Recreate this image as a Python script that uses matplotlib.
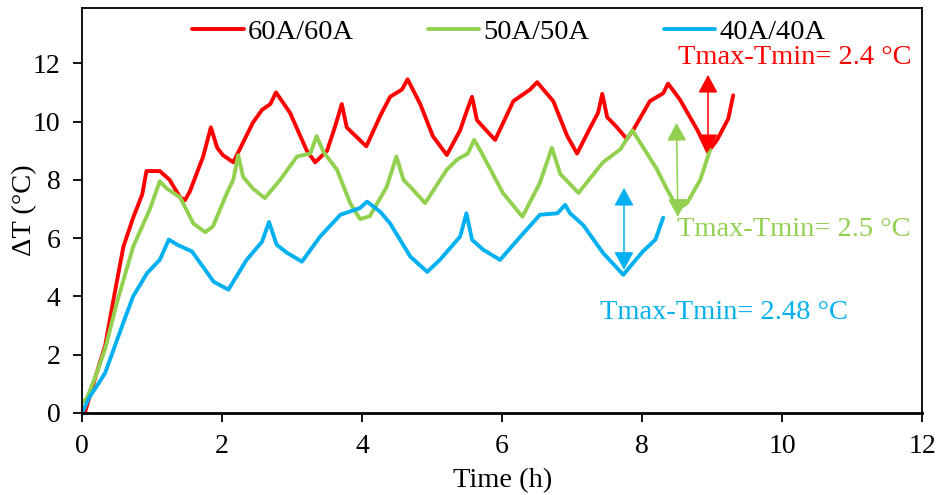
"""Delta T versus time for three charge/discharge currents."""

import matplotlib
matplotlib.use("Agg")
import matplotlib.pyplot as plt

plt.rcParams["font.family"] = ["Liberation Serif", "DejaVu Serif"]

# values
t60 = [0.04, 0.2, 0.33, 0.45, 0.59, 0.73, 0.86, 0.92, 1.11, 1.25, 1.4, 1.47, 1.54, 1.73, 1.84,
       1.93, 2.01, 2.16, 2.44, 2.57, 2.69, 2.77, 2.97, 3.21, 3.33, 3.5, 3.61, 3.71, 3.78, 3.93,
       4.06, 4.26, 4.4, 4.57, 4.65, 4.83, 5.01, 5.21, 5.4, 5.5, 5.57, 5.64, 5.79, 5.9, 6.16,
       6.4, 6.5, 6.73, 6.93, 7.07, 7.26, 7.37, 7.43, 7.5, 7.64, 7.78, 7.87, 8.11, 8.3, 8.37,
       8.54, 8.79, 8.94, 9.07, 9.23, 9.3]
dT60 = [0.0, 1.3, 2.3, 3.9, 5.7, 6.7, 7.5, 8.3, 8.3, 8.0, 7.4, 7.3, 7.6, 8.8, 9.8,
        9.1, 8.85, 8.6, 9.96, 10.4, 10.6, 11.0, 10.3, 9.0, 8.6, 9.0, 9.8, 10.6, 9.8, 9.45,
        9.15, 10.2, 10.85, 11.1, 11.45, 10.6, 9.5, 8.85, 9.7, 10.4, 10.85, 10.05, 9.65, 9.37, 10.7,
        11.1, 11.35, 10.7, 9.5, 8.9, 9.8, 10.3, 10.95, 10.15, 9.8, 9.4, 9.7, 10.7, 10.97, 11.3,
        10.75, 9.7, 8.95, 9.37, 10.1, 10.9]

t50 = [0.0, 0.07, 0.2, 0.33, 0.5, 0.73, 0.97, 1.11, 1.21, 1.4, 1.59, 1.76, 1.87, 2.07, 2.16,
       2.23, 2.3, 2.44, 2.61, 2.83, 3.07, 3.26, 3.35, 3.45, 3.64, 3.83, 3.97, 4.11, 4.35,
       4.49, 4.59, 4.73, 4.9, 5.21, 5.36, 5.51, 5.6, 5.69, 6.01, 6.29, 6.54, 6.71, 6.83,
       7.09, 7.44, 7.69, 7.86, 8.07, 8.2, 8.36, 8.51, 8.64, 8.83, 8.97]
dT50 = [0.35, 0.5, 1.3, 2.2, 3.8, 5.7, 7.0, 7.95, 7.7, 7.4, 6.5, 6.2, 6.4, 7.55, 8.0,
        8.85, 8.1, 7.7, 7.37, 8.0, 8.8, 8.9, 9.5, 8.95, 8.35, 7.2, 6.65, 6.75, 7.75,
        8.8, 8.0, 7.65, 7.2, 8.35, 8.7, 8.9, 9.37, 9.0, 7.55, 6.73, 7.9, 9.1, 8.2,
        7.55, 8.6, 9.05, 9.7, 8.9, 8.4, 7.65, 7.0, 7.2, 8.0, 9.03]

t40 = [0.0, 0.11, 0.22, 0.33, 0.45, 0.59, 0.73, 0.93, 1.11, 1.24, 1.36, 1.57, 1.88, 2.09,
       2.35, 2.57, 2.67, 2.78, 2.93, 3.14, 3.4, 3.69, 3.97, 4.07, 4.26, 4.4, 4.69, 4.93,
       5.11, 5.4, 5.49, 5.57, 5.73, 5.97, 6.26, 6.54, 6.79, 6.9, 6.97, 7.16, 7.44, 7.73,
       8.01, 8.19, 8.3]
dT40 = [0.0, 0.56, 0.95, 1.37, 2.17, 3.1, 4.0, 4.8, 5.25, 5.95, 5.77, 5.54, 4.5, 4.23,
        5.25, 5.87, 6.55, 5.77, 5.49, 5.19, 6.05, 6.8, 7.03, 7.25, 6.9, 6.5, 5.36, 4.84,
        5.25, 6.05, 6.85, 5.94, 5.6, 5.25, 6.05, 6.8, 6.85, 7.14, 6.85, 6.44, 5.49, 4.74,
        5.54, 5.95, 6.7]

labels = ["60A/60A", "50A/50A", "40A/40A"]
colors = ["#FF0000", "#92D050", "#00B0F0"]

fig = plt.figure(figsize=(9.43, 4.95), dpi=100)
ax = fig.add_axes([0.087, 0.166, 0.891, 0.818])

for t, d, lab, c in zip([t60, t50, t40], [dT60, dT50, dT40], labels, colors):
    ax.plot(t, d, color=c, lw=2.8, label=lab, solid_joinstyle="round", solid_capstyle="round")

# double arrows showing the spread
arrow = "<|-|>,head_length=0.55,head_width=0.3"
ax.annotate("", xy=(8.94, 11.6), xytext=(8.94, 8.95),
            arrowprops=dict(arrowstyle=arrow, color=colors[0], lw=1.1, mutation_scale=20,
                            shrinkA=0, shrinkB=0))
ax.annotate("", xy=(8.49, 9.95), xytext=(8.51, 6.73),
            arrowprops=dict(arrowstyle=arrow, color=colors[1], lw=1.1, mutation_scale=20,
                            shrinkA=0, shrinkB=0))
ax.annotate("", xy=(7.74, 7.72), xytext=(7.74, 4.91),
            arrowprops=dict(arrowstyle=arrow, color=colors[2], lw=1.1, mutation_scale=20,
                            shrinkA=0, shrinkB=0))

ax.text(8.51, 12.2, "Tmax-Tmin= 2.4 °C", color=colors[0], fontsize=20.5, va="center")
ax.text(8.5, 6.28, "Tmax-Tmin= 2.5 °C", color=colors[1], fontsize=20.5, va="center")
ax.text(7.4, 3.43, "Tmax-Tmin= 2.48 °C", color=colors[2], fontsize=20.5, va="center")

ax.set_xlim(0, 12)
ax.set_ylim(0, 13.9)
ax.set_xticks(range(0, 13, 2))
ax.set_yticks(range(0, 13, 2))
ax.tick_params(direction="out", length=6.5, width=1.3, labelsize=20, top=False, right=False)
ax.tick_params(axis="x", pad=9)
ax.tick_params(axis="y", pad=9)
for s in ax.spines.values():
    s.set_linewidth(1.3)
ax.spines["bottom"].set_linewidth(2)

ax.set_xlabel("Time (h)", fontsize=20.5, labelpad=6)
ax.set_ylabel("ΔT (°C)", fontsize=20.5, labelpad=-3)

ax.legend(loc="upper center", ncol=3, frameon=False, fontsize=20.5, handlelength=1.8,
          handletextpad=0.15, columnspacing=2.6, bbox_to_anchor=(0.508, 1.035))

fig.savefig("out.png", dpi=100)
